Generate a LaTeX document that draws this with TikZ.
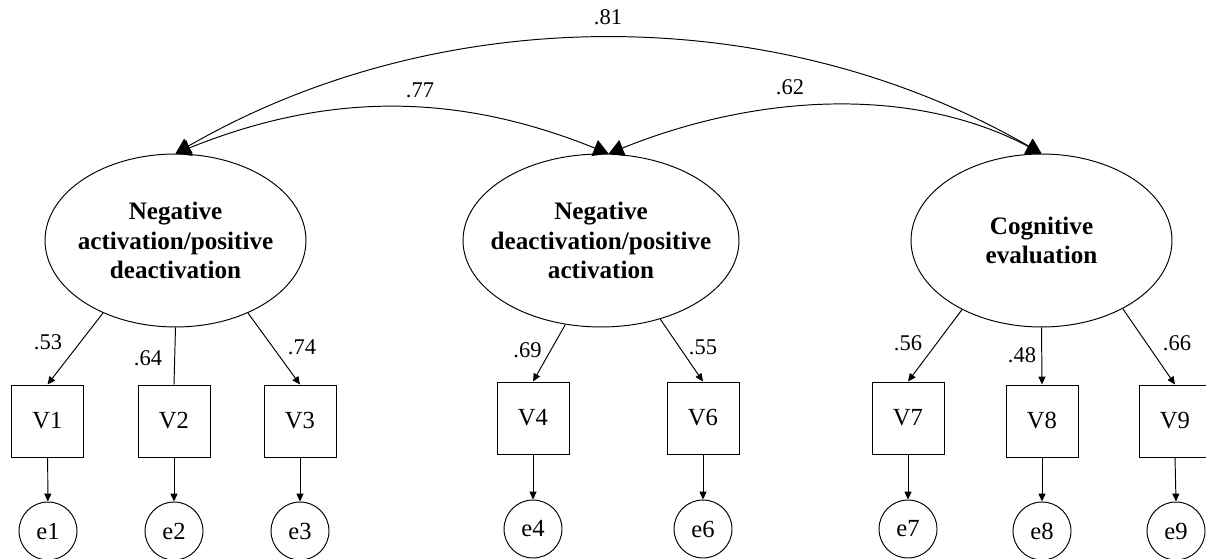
\documentclass[tikz,border=0pt]{standalone}
\usepackage{fontspec}
\setmainfont{Liberation Serif}
\usetikzlibrary{shapes.geometric, arrows.meta}

\begin{document}
\begin{tikzpicture}[x=0.02cm, y=0.02cm, line width=0.55pt,
    latent/.style={draw, ellipse, minimum height=3.46cm, inner sep=0pt},
    lattext/.style={align=center, font=\fontsize{14.3}{17}\selectfont\bfseries},
    obs/.style={draw, rectangle, minimum size=1.44cm, inner sep=0pt, font=\fontsize{14}{16}\selectfont},
    err/.style={draw, circle, minimum size=1.16cm, inner sep=0pt, font=\fontsize{14}{16}\selectfont},
    load/.style={font=\fontsize{12.8}{14}\selectfont},
    path/.style={-{Triangle[length=4.5pt, width=4pt]}},
    cov/.style={{Triangle[length=0.3cm, width=0.34cm]}-{Triangle[length=0.3cm, width=0.34cm]}}
]
    \useasboundingbox (0,0) rectangle (1206,558);

    % Latent factors
    \node[latent, minimum width=5.22cm] (f1) at (175.5,317.5) {};
    \node[latent, minimum width=5.52cm] (f2) at (601,317.5) {};
    \node[latent, minimum width=5.22cm] (f3) at (1041.5,317.5) {};
    \node[lattext] (f1txt) at (f1) {Negative\\activation/positive\\deactivation};
    \node[lattext] (f2txt) at (f2) {Negative\\deactivation/positive\\activation};
    \node[lattext] (f3txt) at (f3) {Cognitive\\evaluation};

    % Indicators
    \node[obs] (v1) at (47.5,137) {V1};
    \node[obs] (v2) at (174,137) {V2};
    \node[obs] (v3) at (300,137) {V3};
    \node[obs] (v4) at (533,140) {V4};
    \node[obs] (v6) at (703,140) {V6};
    \node[obs] (v7) at (908,140) {V7};
    \node[obs] (v8) at (1042,137) {V8};
    \node[obs] (v9) at (1175,137) {V9};

    % Errors
    \node[err] (e1) at (48,27) {e1};
    \node[err] (e2) at (174,27) {e2};
    \node[err] (e3) at (300,27) {e3};
    \node[err] (e4) at (533,29) {e4};
    \node[err] (e6) at (703,29) {e6};
    \node[err] (e7) at (908,29) {e7};
    \node[err] (e8) at (1042,27) {e8};
    \node[err] (e9) at (1176,27) {e9};

    % Loadings
    \draw[path] (f1.225) -- (v1.north);
    \draw (f1.south) -- (v2.north);
    \draw[path] (f1.315) -- (v3.north);
    \draw[path] (f2.247) -- (v4.north);
    \draw[path] (f2.307) -- (v6.north);
    \draw[path] (f3.221) -- (v7.north);
    \draw[path] (f3.south) -- (v8.north);
    \draw[path] (f3.320) -- (v9.north);
    \node[load] (l1) at (48,216) {.53};
    \node[load] (l2) at (148,200) {.64};
    \node[load] (l3) at (302,211) {.74};
    \node[load] (l4) at (527.5,208) {.69};
    \node[load] (l6) at (703,211) {.55};
    \node[load] (l7) at (908,215) {.56};
    \node[load] (l8) at (1022,203) {.48};
    \node[load] (l9) at (1177,215) {.66};

    % Error paths
    \draw[path] (v1) -- (e1);
    \draw[path] (v2) -- (e2);
    \draw[path] (v3) -- (e3);
    \draw[path] (v4) -- (e4);
    \draw[path] (v6) -- (e6);
    \draw[path] (v7) -- (e7);
    \draw[path] (v8) -- (e8);
    \draw[path] (v9.south) -- (e9.north);

    % Correlations
    \draw[cov] (f1.north) .. controls +(22:164) and +(158:164) .. (f2.85);
    \draw[cov] (f2.85) .. controls +(22:167) and +(152:140) .. (f3.north);
    \draw[cov] (f1.north) .. controls +(30:307) and +(150:307) .. (f3.north);
    \node[load] (r12) at (420,468) {.77};
    \node[load] (r23) at (790,471) {.62};
    \node[load] (r13) at (608,541) {.81};
\end{tikzpicture}
\end{document}
